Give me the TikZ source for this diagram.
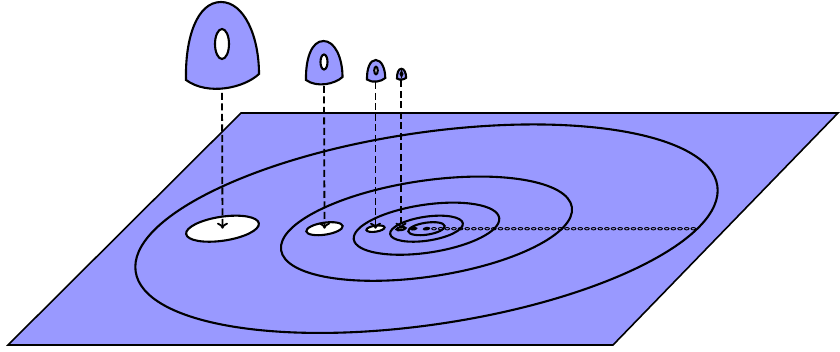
\documentclass[tikz,border=0pt]{standalone}
\usetikzlibrary{arrows.meta}
\definecolor{planeblue}{RGB}{153,153,255}
\tikzset{
  bell/.pic={
    \draw[bellline] (-36,-4) .. controls (-37,-46) and (-25,-82) .. (-1,-82)
      .. controls (22,-82) and (37,-48) .. (37,-10)
      .. controls (22,4) and (-14,12) .. (-36,-4) -- cycle;
    \draw[hole] (0,-40) ellipse [x radius=7, y radius=15];
  }
}
\begin{document}
\begin{tikzpicture}[
  x=1pt, y=-1pt,
  plane/.style={draw, fill=planeblue, line width=1.6pt},
  orbit/.style={draw, line width=2.1pt},
  hole/.style={draw, fill=white, line width=2.1pt},
  bead/.style={draw, line width=0.9pt},
  bellline/.style={draw, fill=planeblue, line width=2.1pt},
  arr/.style={-{To[length=6pt,width=11pt]}, line width=1.8pt, dash pattern=on 7pt off 3.5pt}
]
  \useasboundingbox (0,0) rectangle (840,352);
  % the plane
  \coordinate (p1) at (8,345);
  \coordinate (p2) at (613,345);
  \coordinate (p3) at (838,113);
  \coordinate (p4) at (241,113);
  \draw[plane] (p1) -- (p2) -- (p3) -- (p4) -- cycle;
  % nested ellipses and their holes
  \coordinate (c) at (426.5,228.7);
  \foreach \k in {0,...,4} {
    \pgfmathsetmacro\s{2^(-\k)}
    \draw[orbit, rotate around={8.4:(c)}] (c) ellipse [x radius=294*\s, y radius=96*\s];
    \coordinate (h\k) at ({426.5-204*\s},228.7);
    \draw[hole, rotate around={8.4:(h\k)}] (h\k) ellipse [x radius=294*\s/8, y radius=96*\s/8];
  }
  \fill[rotate around={8.4:(c)}] (c) ellipse [x radius=3.8, y radius=1.8];
  \foreach \i in {0,...,39}
    \draw[bead] ({434+6.65*\i},228.7) ellipse [x radius=2.3, y radius=1.2];
  % the lifted pieces
  \pic at (222,84) {bell};
  \pic[scale=0.5] at (324,82) {bell};
  \pic[scale=0.25] at (376,80.5) {bell};
  \pic[scale=0.125] at (401.5,79) {bell};
  \coordinate (b0) at (222,93);
  \coordinate (b1) at (324,86);
  \coordinate (b2) at (375.5,82.5);
  \coordinate (b3) at (401,80.5);
  \foreach \k in {0,...,3}
    \draw[arr] (b\k) -- (h\k);
\end{tikzpicture}
\end{document}
